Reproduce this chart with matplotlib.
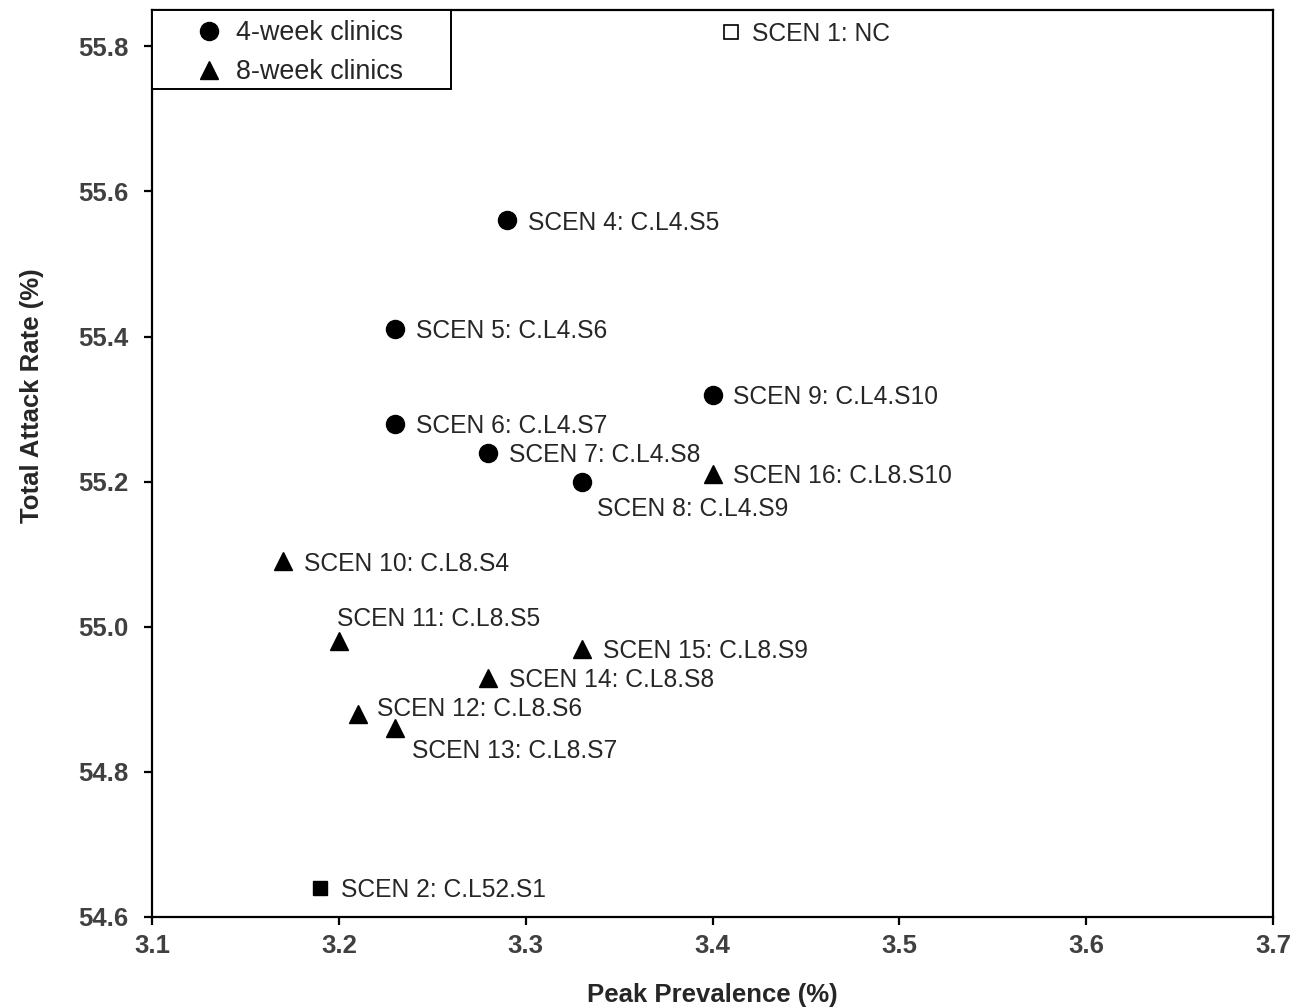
"""Peak prevalence vs total attack rate for the clinic scenarios."""

import matplotlib
matplotlib.use('Agg')
import matplotlib.pyplot as plt
from matplotlib.patches import Rectangle

plt.rcParams['font.family'] = ['Liberation Sans', 'DejaVu Sans']

# 4-week clinics
four_week_labels = ['SCEN 4: C.L4.S5', 'SCEN 5: C.L4.S6', 'SCEN 6: C.L4.S7',
                    'SCEN 7: C.L4.S8', 'SCEN 8: C.L4.S9', 'SCEN 9: C.L4.S10']
four_week_peak = [3.29, 3.23, 3.23, 3.28, 3.33, 3.40]
four_week_attack = [55.56, 55.41, 55.28, 55.24, 55.20, 55.32]

# 8-week clinics
eight_week_labels = ['SCEN 10: C.L8.S4', 'SCEN 11: C.L8.S5', 'SCEN 12: C.L8.S6',
                     'SCEN 13: C.L8.S7', 'SCEN 14: C.L8.S8', 'SCEN 15: C.L8.S9',
                     'SCEN 16: C.L8.S10']
eight_week_peak = [3.17, 3.20, 3.21, 3.23, 3.28, 3.33, 3.40]
eight_week_attack = [55.09, 54.98, 54.88, 54.86, 54.93, 54.97, 55.21]

# no clinics / 52-week clinic
nc_label, nc_peak, nc_attack = 'SCEN 1: NC', 3.41, 55.82
l52_label, l52_peak, l52_attack = 'SCEN 2: C.L52.S1', 3.19, 54.64

# label offsets in points, most sit just to the right of the marker
default_offset = (15, -1.5)
special_offsets = {
    'SCEN 8: C.L4.S9': (11, -20),
    'SCEN 11: C.L8.S5': (-1.5, 16),
    'SCEN 12: C.L8.S6': (14, 3.5),
    'SCEN 13: C.L8.S7': (12, -16),
}

fig = plt.figure(figsize=(13.07, 10.08), dpi=100)
ax = fig.add_axes([0.1163, 0.0903, 0.8577, 0.8997])

ax.plot(four_week_peak, four_week_attack, 'o', color='black', markersize=13,
        label='4-week clinics')
ax.plot(eight_week_peak, eight_week_attack, '^', color='black', markersize=13,
        label='8-week clinics')
ax.plot([nc_peak], [nc_attack], 's', markerfacecolor='white', markeredgecolor='black',
        markeredgewidth=1.2, markersize=10.5)
ax.plot([l52_peak], [l52_attack], 's', color='black', markersize=10.5)

all_labels = four_week_labels + eight_week_labels + [nc_label, l52_label]
all_peak = four_week_peak + eight_week_peak + [nc_peak, l52_peak]
all_attack = four_week_attack + eight_week_attack + [nc_attack, l52_attack]
for lab, px, py in zip(all_labels, all_peak, all_attack):
    off = special_offsets.get(lab, default_offset)
    ax.annotate(lab, (px, py), xytext=off, textcoords='offset points',
                ha='left', va='center', fontsize=17.7, color='#262626')

ax.set_xlim(3.1, 3.7)
ax.set_ylim(54.6, 55.85)
ax.set_xticks([3.1, 3.2, 3.3, 3.4, 3.5, 3.6, 3.7])
ax.set_yticks([54.6, 54.8, 55.0, 55.2, 55.4, 55.6, 55.8])
ax.xaxis.set_major_formatter(plt.FormatStrFormatter('%.1f'))
ax.yaxis.set_major_formatter(plt.FormatStrFormatter('%.1f'))

for s in ax.spines.values():
    s.set_linewidth(1.6)
ax.tick_params(direction='out', length=6, width=1.6, labelsize=18.5,
               labelcolor='#404040')
ax.tick_params(axis='x', pad=6)
ax.tick_params(axis='y', pad=11)
for t in ax.get_xticklabels() + ax.get_yticklabels():
    t.set_fontweight('bold')

ax.set_xlabel('Peak Prevalence (%)', fontsize=18.5, fontweight='bold',
              color='#262626', labelpad=18)
ax.set_ylabel('Total Attack Rate (%)', fontsize=18.5, fontweight='bold',
              color='#262626')
ax.yaxis.set_label_coords(-0.0964, 0.575)

# legend box hangs off the top-left corner, wider than its entries
ax.add_patch(Rectangle((0, 1 - 0.0871), 0.2667, 0.0871, transform=ax.transAxes,
                       facecolor='white', edgecolor='black', linewidth=1.4,
                       clip_on=False, zorder=4.5))
leg = ax.legend(loc='upper left', bbox_to_anchor=(0.0388, 0.9887), frameon=False,
                borderaxespad=0, borderpad=0, fontsize=19.4,
                handlelength=1.0, handletextpad=0.5, labelspacing=0.48)
for t in leg.get_texts():
    t.set_color('#262626')

plt.savefig('out.png', dpi=100)
